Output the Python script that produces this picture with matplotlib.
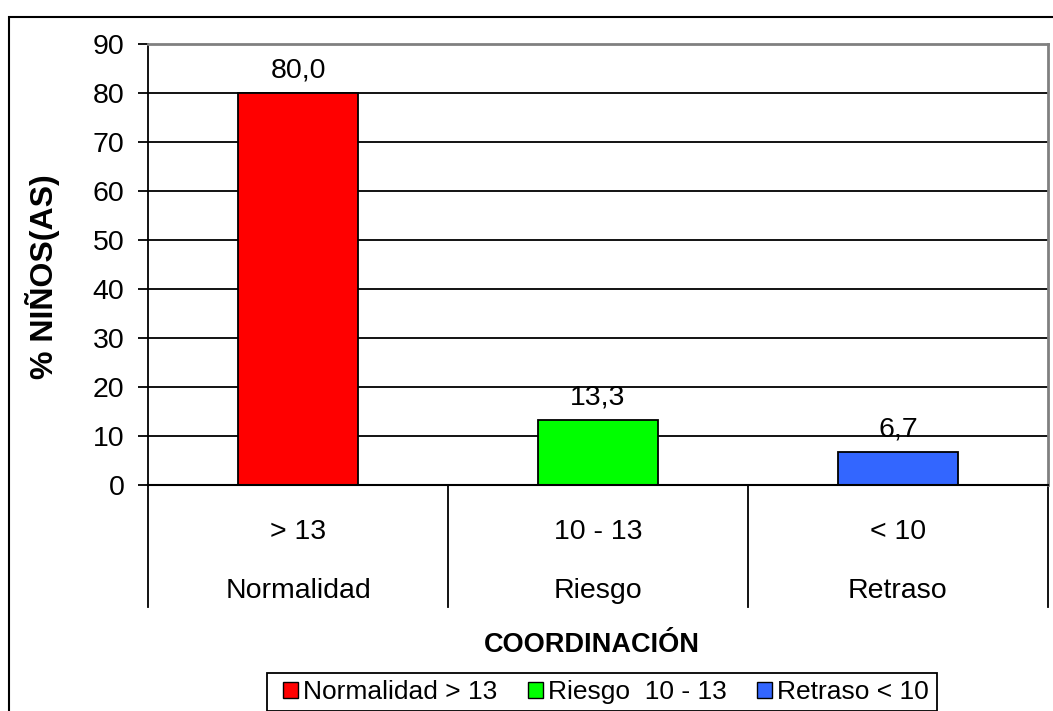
import matplotlib
matplotlib.use('Agg')
import matplotlib.pyplot as plt
from matplotlib.patches import Rectangle, Patch

plt.rcParams['font.family'] = ['Liberation Sans', 'DejaVu Sans']

# data
grupos = ['> 13', '10 - 13', '< 10']
niveles = ['Normalidad', 'Riesgo', 'Retraso']
porcentajes = [80.0, 13.3, 6.7]
leyenda = ['Normalidad > 13', 'Riesgo  10 - 13', 'Retraso < 10']
colores = ['#FF0000', '#00FF00', '#3366FF']

W, H = 1053, 711
fig = plt.figure(figsize=(W / 100, H / 100), dpi=100)

# plot area in pixels: left 148, right 1048, top 44 (90), bottom 485 (0)
ax = fig.add_axes([148 / W, 1 - 485 / H, 900 / W, 441 / H])

x = [i + 0.5 for i in range(len(porcentajes))]
ax.bar(x, porcentajes, width=0.4, color=colores, edgecolor='black',
       linewidth=1.3, zorder=3)

ax.set_xlim(0, 3)
ax.set_ylim(0, 90)
ax.set_yticks(range(0, 100, 10))
ax.tick_params(axis='y', labelsize=20.5, length=7, width=1.3, pad=10,
               direction='out')
ax.set_xticks([])

for yv in range(10, 90, 10):
    ax.axhline(yv, color='black', linewidth=1.3, zorder=1)

ax.spines['top'].set_color('#808080')
ax.spines['top'].set_linewidth(2)
ax.spines['right'].set_color('#808080')
ax.spines['right'].set_linewidth(2)
ax.spines['left'].set_linewidth(1.3)
ax.spines['bottom'].set_linewidth(1.5)
ax.spines['bottom'].set_zorder(4)

# data labels
for xi, v in zip(x, porcentajes):
    ax.annotate(f'{v:.1f}'.replace('.', ','), (xi, v), xytext=(0, 11),
                textcoords='offset points', ha='center', va='baseline',
                fontsize=20.5, zorder=2)

# two-level category axis
tr = ax.get_xaxis_transform()
px = 1 / 441
for xs in range(4):
    ax.plot([xs, xs], [0, -(607 - 485) * px], color='black', linewidth=1.3,
            transform=tr, clip_on=False)
for xi, g, n in zip(x, grupos, niveles):
    ax.text(xi, -(539 - 485) * px, g, transform=tr, ha='center',
            va='baseline', fontsize=20.5)
    ax.text(xi, -(598 - 485) * px, n, transform=tr, ha='center',
            va='baseline', fontsize=20.5)

ax.set_ylabel('% NIÑOS(AS)', fontsize=23, fontweight='bold')
ax.yaxis.set_label_coords(-(148 - 60) / 900, (485 - 277) / 441)
fig.text(592 / W, 1 - 652 / H, 'COORDINACIÓN', ha='center', va='baseline',
         fontsize=19.5, fontweight='bold')

handles = [Patch(facecolor=c, edgecolor='black', linewidth=1) for c in colores]
leg = fig.legend(handles, leyenda, loc='center', ncol=3,
                 bbox_to_anchor=(606 / W, 1 - 692 / H), fontsize=19,
                 frameon=False, handlelength=0.57, handleheight=0.57,
                 handletextpad=0.2, columnspacing=1.15, borderpad=0,
                 borderaxespad=0)
# legend box
fig.add_artist(Rectangle((267 / W, 1 - 711 / H), 670 / W, 38 / H,
                         transform=fig.transFigure, fill=False,
                         edgecolor='black', linewidth=1.3))

# outer chart border (right and bottom run off the image)
fig.add_artist(Rectangle((9 / W, -0.05), 1.1, (H - 17) / H + 0.05,
                         transform=fig.transFigure, fill=False,
                         edgecolor='black', linewidth=1.5))

fig.savefig('out.png', dpi=100)
